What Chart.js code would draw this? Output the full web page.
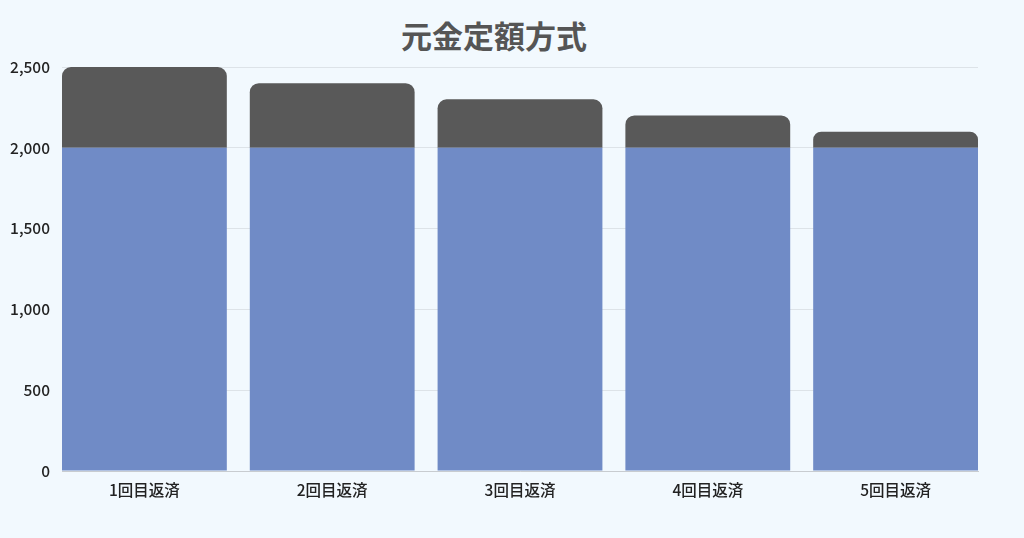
<!DOCTYPE html>
<html><head><meta charset="utf-8">
<script src="https://cdn.jsdelivr.net/npm/chart.js@4"></script>
<style>
html,body{margin:0;padding:0;background:#f2f9fe;}
#wrap{position:relative;width:1024px;height:538px;}
#title{position:absolute;top:12px;left:0;width:988px;text-align:center;font-family:"Noto Sans CJK JP","Noto Sans",sans-serif;font-weight:700;font-size:31px;color:#555;line-height:46px;}
canvas{position:absolute;left:0;top:0;}
</style></head>
<body><div id="wrap"><div id="title">元金定額方式</div><canvas id="c" width="1024" height="538"></canvas></div>
<script>
const categories = ['1回目返済','2回目返済','3回目返済','4回目返済','5回目返済'];
const principal = [2000, 2000, 2000, 2000, 2000];
const interest = [500, 400, 300, 200, 100];
const yTicks = [0, 500, 1000, 1500, 2000, 2500];

const font = {family:'"Noto Sans CJK JP","Noto Sans",sans-serif', size:15.5, weight:'500'};
const barFrac = 165/188;
const half = barFrac/2;

new Chart(document.getElementById('c'), {
  type:'bar',
  data:{
    datasets:[
      {label:'元金', data:principal.map((v,i)=>({x:i,y:v})), backgroundColor:'#708bc6', stack:'s', borderRadius:0, borderSkipped:false},
      {label:'利息', data:interest.map((v,i)=>({x:i,y:v})), backgroundColor:'#595959', stack:'s',
       borderRadius:{topLeft:9,topRight:9,bottomLeft:0,bottomRight:0}, borderSkipped:false}
    ]
  },
  options:{
    responsive:false, animation:false,
    devicePixelRatio:1,
    layout:{padding:{left:0,right:46,top:67,bottom:0}},
    datasets:{bar:{barPercentage:barFrac, categoryPercentage:1}},
    plugins:{legend:{display:false}, title:{display:false}, tooltip:{enabled:false}},
    scales:{
      x:{type:'linear', min:-half, max:categories.length-1+half, offset:false,
        grid:{display:false, drawTicks:false},
        border:{display:true,color:'#c8ccd0',width:1},
        afterBuildTicks:s=>{s.ticks=categories.map((_,i)=>({value:i}));},
        afterFit:s=>{s.height=67;},
        ticks:{font, color:'#222', padding:10, autoSkip:false, maxRotation:0,
          callback:(v)=>categories[v] ?? ''}
      },
      y:{stacked:true, min:0, max:2500,
        afterBuildTicks:s=>{s.ticks=yTicks.map(v=>({value:v}));},
        afterFit:s=>{s.width=62;},
        grid:{color:'#dde3e8', drawTicks:false},
        border:{display:false},
        ticks:{font, color:'#222', padding:12, callback:v=>v.toLocaleString('en-US')}
      }
    }
  }
});
</script></body></html>
